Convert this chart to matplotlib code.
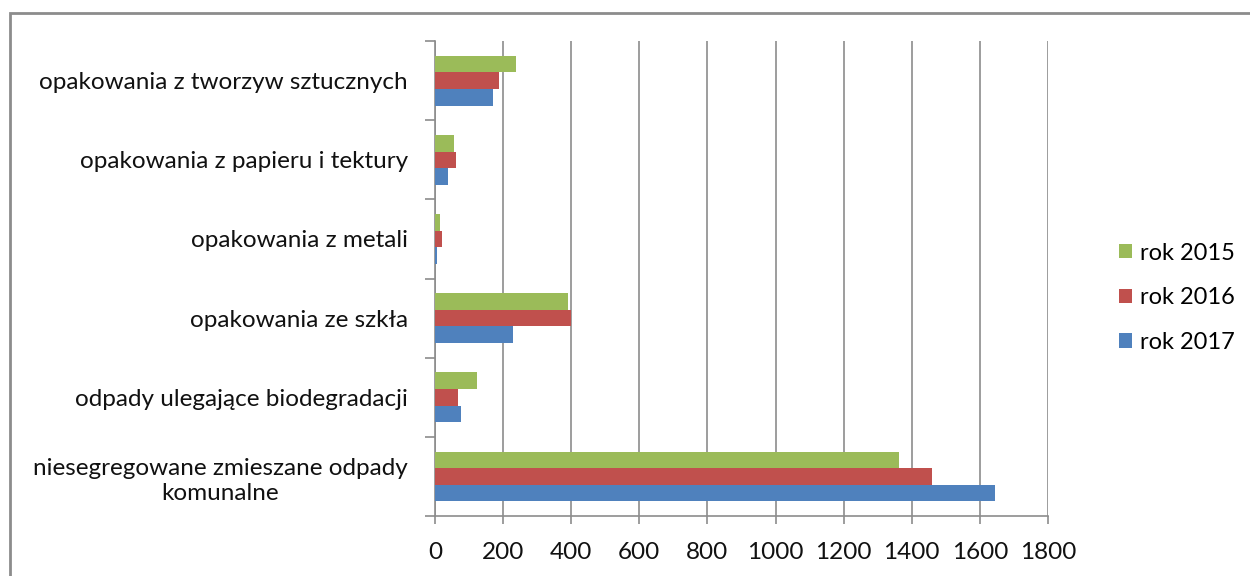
import matplotlib.pyplot as plt
import numpy as np
from matplotlib.patches import Rectangle

categories = ['niesegregowane zmieszane odpady\nkomunalne',
              'odpady ulegające biodegradacji',
              'opakowania ze szkła',
              'opakowania z metali',
              'opakowania z papieru i tektury',
              'opakowania z tworzyw sztucznych']
rok_2015 = [1362, 124, 390, 16, 57, 238]
rok_2016 = [1459, 68, 399, 20, 61, 189]
rok_2017 = [1643, 76, 230, 5, 39, 169]

plt.rcParams['font.family'] = ['Lato', 'DejaVu Sans']

fig = plt.figure(figsize=(12.5, 5.76), dpi=100)
ax = fig.add_axes([0.348, 0.104, 0.4904, 0.8247])

y = np.arange(len(categories))
h = 0.21
ax.barh(y - h, rok_2017, height=h, color='#4F81BD', label='rok 2017', zorder=3)
ax.barh(y, rok_2016, height=h, color='#C0504D', label='rok 2016', zorder=3)
ax.barh(y + h, rok_2015, height=h, color='#9BBB59', label='rok 2015', zorder=3)

ax.set_xlim(0, 1800)
ax.set_ylim(-0.5, len(categories) - 0.5)
ax.set_xticks(np.arange(0, 1801, 200))
ax.set_yticks(y)
ax.set_yticklabels(categories, multialignment='center', linespacing=1.25)
ax.set_yticks(np.arange(-0.5, len(categories), 1), minor=True)

ax.grid(axis='x', color='#8c8c8c', linewidth=1.2, zorder=0)
for s in ['top', 'right']:
    ax.spines[s].set_visible(False)
for s in ['left', 'bottom']:
    ax.spines[s].set_color('#8c8c8c')
    ax.spines[s].set_linewidth(1.2)

ax.tick_params(axis='y', which='major', length=0, pad=19.5, labelsize=17.5, labelcolor='#111111')
ax.tick_params(axis='y', which='minor', length=7, color='#8c8c8c', width=1.2)
ax.tick_params(axis='x', length=6, color='#8c8c8c', width=1.2, pad=13, labelsize=17.5,
               labelcolor='#111111')

handles, labels = ax.get_legend_handles_labels()
fig.legend(handles[::-1], labels[::-1], loc='center left', bbox_to_anchor=(0.895, 0.483),
           frameon=False, fontsize=17, handlelength=0.55, handleheight=0.55,
           labelspacing=1.0, handletextpad=0.35, borderpad=0, borderaxespad=0)

fig.patches.append(Rectangle((0.008, -0.1), 1.1, 1.077, transform=fig.transFigure,
                             fill=False, edgecolor='#8c8c8c', linewidth=2, clip_on=False))

fig.savefig('out.png', dpi=100)
